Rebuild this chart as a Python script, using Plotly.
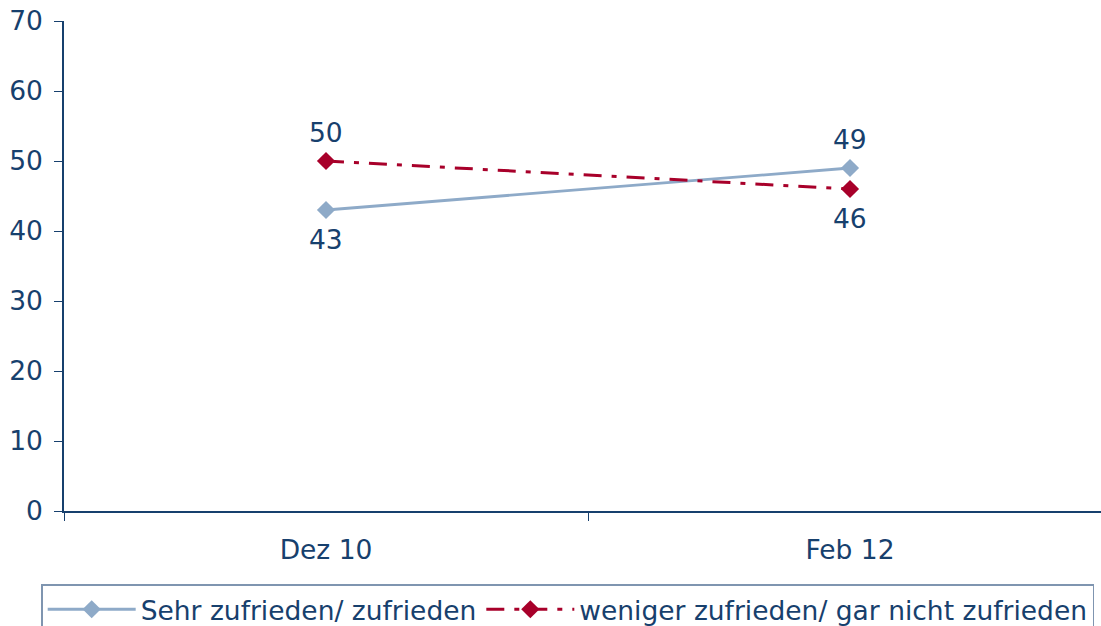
import plotly.graph_objects as go

categories = ["Dez 10", "Feb 12"]
sehr = [43, 49]
weniger = [50, 46]
y_ticks = [0, 10, 20, 30, 40, 50, 60, 70]

TXT = "#17406D"
FONT = "DejaVu Sans"
FS = 26.5

fig = go.Figure()
fig.add_trace(go.Scatter(
    x=categories, y=sehr, name="Sehr zufrieden/ zufrieden",
    mode="lines+markers",
    line=dict(color="#8EAAC8", width=2.8),
    marker=dict(symbol="diamond", size=14, color="#8EAAC8"),
))
fig.add_trace(go.Scatter(
    x=categories, y=weniger, name="weniger zufrieden/ gar nicht zufrieden",
    mode="lines+markers",
    line=dict(color="#A8002A", width=3, dash="18px,10px,5px,10px"),
    marker=dict(symbol="diamond", size=14, color="#A8002A"),
))

# data labels: above the higher series at each category, below the lower one
for i, c in enumerate(categories):
    for v, other in ((sehr[i], weniger[i]), (weniger[i], sehr[i])):
        fig.add_annotation(x=c, y=v, text=str(v), showarrow=False,
                           yshift=29 if v > other else -29,
                           font=dict(size=FS, color=TXT, family=FONT))

fig.update_layout(
    width=1101, height=626,
    margin=dict(l=64, r=0, t=21, b=115, autoexpand=False),
    paper_bgcolor="white", plot_bgcolor="white",
    font=dict(family=FONT, size=FS, color=TXT),
    showlegend=True,
    legend=dict(orientation="h", x=-0.022, y=-0.149, xanchor="left", yanchor="top",
                bordercolor="#7F95B0", borderwidth=1.5, font=dict(size=FS, color=TXT),
                itemwidth=88, tracegroupgap=0),
    xaxis=dict(type="category", range=[-0.5, 1.479], showline=True, linecolor=TXT,
               linewidth=1.5, ticks="outside", tickson="boundaries", ticklen=8,
               tickcolor=TXT, showgrid=False, zeroline=False, automargin=False,
               ticklabelstandoff=14, tickfont=dict(size=FS, color=TXT)),
    yaxis=dict(range=[0, 70], tickvals=y_ticks, showline=True, linecolor=TXT,
               linewidth=1.5, ticks="outside", ticklen=8, tickcolor=TXT,
               showgrid=False, zeroline=False, automargin=False,
               ticklabeloverflow="allow",
               ticklabelstandoff=6, tickfont=dict(size=FS, color=TXT)),
)
fig.write_html("out.html", config={"responsive": False, "displayModeBar": False},
               post_script="document.body.style.margin='0px';")
